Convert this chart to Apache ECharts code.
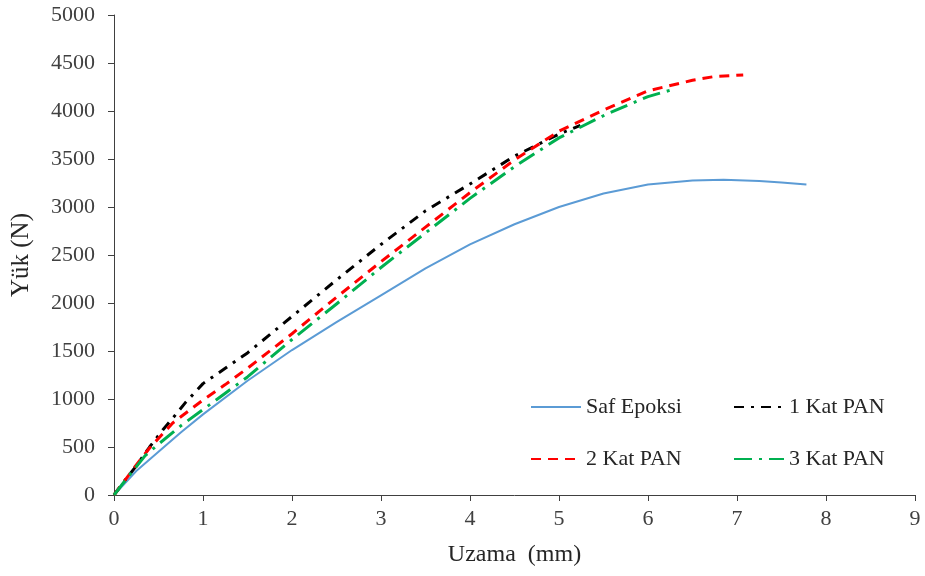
<!DOCTYPE html>
<html>
<head>
<meta charset="utf-8">
<script src="https://cdn.jsdelivr.net/npm/echarts@6/dist/echarts.min.js"></script>
<style>
  html, body { margin: 0; padding: 0; background: #fff; }
  #chart { width: 925px; height: 576px; }
</style>
</head>
<body>
<div id="chart"></div>
<script>
// Load–elongation curves (Yük in N vs Uzama in mm)
const seriesNames = ['Saf Epoksi', '1 Kat PAN', '2 Kat PAN', '3 Kat PAN'];

const epoksiX = [0, 0.25, 0.5, 0.75, 1.0, 1.5, 2.0, 2.5, 3.0, 3.5, 4.0, 4.5, 5.0, 5.5, 6.0, 6.5, 6.85, 7.25, 7.5, 7.78];
const epoksiY = [0, 250, 450, 650, 840, 1190, 1510, 1800, 2080, 2360, 2610, 2820, 3000, 3140, 3235, 3275, 3285, 3270, 3255, 3235];

const kat1X = [0, 0.12, 0.24, 0.4, 0.55, 0.66, 0.8, 1.0, 1.25, 1.5, 2.0, 2.5, 3.0, 3.5, 4.0, 4.5, 5.0, 5.24];
const kat1Y = [0, 150, 290, 500, 680, 800, 960, 1160, 1320, 1480, 1860, 2240, 2610, 2960, 3240, 3530, 3760, 3850];

const kat2X = [0, 0.12, 0.24, 0.4, 0.66, 1.0, 1.25, 1.5, 2.0, 2.5, 3.0, 3.5, 4.0, 4.5, 5.0, 5.5, 6.0, 6.5, 6.75, 7.07];
const kat2Y = [0, 150, 300, 490, 750, 990, 1150, 1320, 1680, 2060, 2430, 2790, 3150, 3490, 3790, 4010, 4210, 4320, 4360, 4375];

const kat3X = [0, 0.15, 0.35, 0.5, 0.75, 1.0, 1.25, 1.5, 2.0, 2.5, 3.0, 3.5, 4.0, 4.5, 5.0, 5.54, 6.0, 6.28];
const kat3Y = [0, 180, 410, 530, 720, 890, 1060, 1230, 1620, 1990, 2370, 2730, 3090, 3420, 3720, 3970, 4150, 4225];

const xTicks = [0, 1, 2, 3, 4, 5, 6, 7, 8, 9];
const yTicks = [0, 500, 1000, 1500, 2000, 2500, 3000, 3500, 4000, 4500, 5000];

const pairs = (xs, ys) => xs.map((x, i) => [x, ys[i]]);

const serif = 'Liberation Serif';
const inkColor = '#404040';

const lineSeries = (name, xs, ys, color, type, width) => ({
  name: name,
  type: 'line',
  data: pairs(xs, ys),
  showSymbol: false,
  symbol: 'none',
  smooth: false,
  lineStyle: { color: color, width: width, type: type, cap: 'butt', join: 'round' },
  itemStyle: { color: color },
  emphasis: { disabled: true },
  animation: false
});

const legendBox = (name, left, top) => ({
  data: [name],
  left: left,
  top: top,
  itemWidth: 50,
  itemHeight: 14,
  padding: 0,
  selectedMode: false,
  itemStyle: { opacity: 0 },
  textStyle: { fontFamily: serif, fontSize: 22, color: '#262626' }
});

const chart = echarts.init(document.getElementById('chart'), null, { renderer: 'canvas' });
chart.setOption({
  backgroundColor: '#ffffff',
  animation: false,
  grid: { left: 114, right: 10, top: 15, bottom: 81, containLabel: false },
  legend: [
    legendBox(seriesNames[0], 530, 396),
    legendBox(seriesNames[1], 733, 396),
    legendBox(seriesNames[2], 530, 448),
    legendBox(seriesNames[3], 733, 448)
  ],
  xAxis: {
    type: 'value',
    min: xTicks[0],
    max: xTicks[xTicks.length - 1],
    interval: 1,
    name: 'Uzama  (mm)',
    nameLocation: 'middle',
    nameGap: 48,
    nameTextStyle: { fontFamily: serif, fontSize: 24, color: '#262626' },
    axisLine: { show: true, lineStyle: { color: inkColor, width: 1 } },
    axisTick: { show: true, inside: false, length: 6, lineStyle: { color: inkColor } },
    axisLabel: { fontFamily: serif, fontSize: 22, color: inkColor, margin: 13, formatter: v => String(v) },
    splitLine: { show: false }
  },
  yAxis: {
    type: 'value',
    min: yTicks[0],
    max: yTicks[yTicks.length - 1],
    interval: 500,
    name: 'Yük (N)',
    nameLocation: 'middle',
    nameGap: 80,
    nameRotate: 90,
    nameTextStyle: { fontFamily: serif, fontSize: 25, color: '#262626' },
    axisLine: { show: true, lineStyle: { color: inkColor, width: 1 } },
    axisTick: { show: true, inside: false, length: 6, lineStyle: { color: inkColor } },
    axisLabel: { fontFamily: serif, fontSize: 22, color: inkColor, margin: 19, formatter: v => String(v) },
    splitLine: { show: false }
  },
  series: [
    lineSeries(seriesNames[0], epoksiX, epoksiY, '#5B9BD5', 'solid', 2),
    lineSeries(seriesNames[1], kat1X, kat1Y, '#000000', [10, 7, 3, 7], 3),
    lineSeries(seriesNames[2], kat2X, kat2Y, '#FF0000', [10, 7], 3),
    lineSeries(seriesNames[3], kat3X, kat3Y, '#00B050', [18, 7, 3, 7], 3)
  ]
});
</script>
</body>
</html>
